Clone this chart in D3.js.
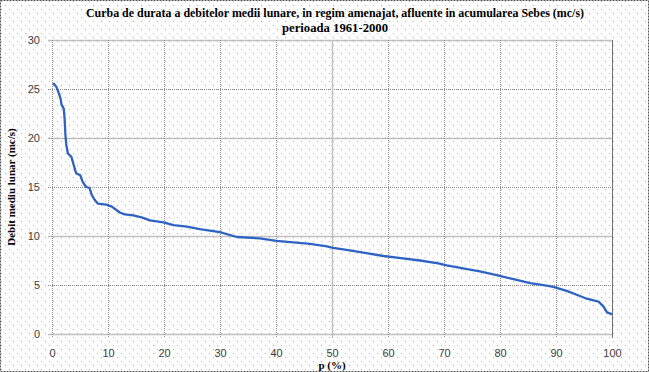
<!DOCTYPE html>
<html>
<head>
<meta charset="utf-8">
<script src="https://cdn.jsdelivr.net/npm/d3@7"></script>
<style>
  body { margin: 0; background: #fff; }
  svg { display: block; }
  .tick text { font-family: "Liberation Sans", Arial, sans-serif; font-size: 11px; fill: #404040; }
  .ttl { font-family: "Liberation Serif", "Times New Roman", serif; font-weight: bold; font-size: 11px; fill: #000; }
</style>
</head>
<body>
<script>
// curba de durata
var pValues = [0.2,0.8,1.2,1.55,1.7,2.1,2.25,2.4,2.55,2.85,3.45,3.9,4.3,5.05,5.5,6.1,6.7,7.1,7.6,8.2,9.7,
  10.7,12.1,13.0,14.5,16.0,17.5,19.9,21.7,24.1,26.4,28.2,30,33,37.1,40.1,43.1,46.1,49.1,50.2,52.3,55.6,
  59.2,61.6,65.7,69.0,70.5,73.4,76.4,79.4,82.4,85.4,88.6,89.5,91.9,93.7,95.5,97.6,98.5,99.1,99.6,100];
var qValues = [25.6,25.2,24.6,24.0,23.4,23.0,22.0,20.3,19.3,18.4,18.1,17.2,16.4,16.2,15.5,15.0,14.9,14.2,13.7,13.3,13.2,
  13.0,12.4,12.2,12.1,11.9,11.6,11.4,11.1,10.95,10.7,10.55,10.4,9.9,9.75,9.5,9.35,9.2,8.95,8.8,8.6,8.3,
  7.96,7.8,7.5,7.2,7.0,6.7,6.4,6.0,5.6,5.2,4.9,4.8,4.4,4.0,3.6,3.3,2.8,2.2,2.1,2.0];
var xTicks = [0,10,20,30,40,50,60,70,80,90,100];
var yTicks = [0,5,10,15,20,25,30];
var titleLines = ["Curba de durata a debitelor medii lunare, in regim amenajat, afluente in acumularea Sebes (mc/s)",
  "perioada 1961-2000"];
var titleWidths = [498, 106];

var W = 649, H = 372;
var m = {left: 52, right: 37, top: 40, bottom: 38};
var width = W - m.left - m.right, height = H - m.top - m.bottom;

var svg = d3.select("body").append("svg").attr("width", W).attr("height", H);

// fundal punctat
var pat = svg.append("defs").append("pattern").attr("id", "dots")
    .attr("width", 8).attr("height", 8).attr("patternUnits", "userSpaceOnUse");
pat.append("rect").attr("x", 1).attr("y", 1).attr("width", 1).attr("height", 1).attr("fill", "#b4b4b4");
pat.append("rect").attr("x", 5).attr("y", 5).attr("width", 1).attr("height", 1).attr("fill", "#b4b4b4");
svg.append("rect").attr("width", W).attr("height", H).attr("fill", "#fff");
svg.append("rect").attr("width", W).attr("height", H).attr("fill", "url(#dots)");
svg.append("rect").attr("x", 0.5).attr("y", 0.5).attr("width", W - 1).attr("height", H - 1)
    .attr("fill", "none").attr("stroke", "#555").attr("stroke-dasharray", "2,1");

var x = d3.scaleLinear().domain([0, 100]).range([0, width]);
var y = d3.scaleLinear().domain([0, 30]).range([height, 0]);

var g = svg.append("g").attr("transform", `translate(${m.left},${m.top})`);

// grila
g.selectAll(".hg").data(yTicks).enter().append("line")
    .attr("x1", -4).attr("x2", width)
    .attr("y1", function(d){return Math.round(y(d)) + 0.5;}).attr("y2", function(d){return Math.round(y(d)) + 0.5;})
    .attr("stroke", function(d){return (d % 10 == 0) ? "#c0c0c0" : "#8a8a8a";})
    .attr("stroke-width", function(d){return (d % 10 == 0) ? 1.5 : 1;})
    .attr("stroke-dasharray", function(d){return (d % 10 == 0) ? null : "1,1";});
g.selectAll(".vg").data(xTicks).enter().append("line")
    .attr("y1", 0).attr("y2", height + 4)
    .attr("x1", function(d){return Math.round(x(d)) + 0.5;}).attr("x2", function(d){return Math.round(x(d)) + 0.5;})
    .attr("stroke", function(d){return d == 50 ? "#c0c0c0" : (d == 100 ? "#707070" : "#8a8a8a");})
    .attr("stroke-width", function(d){return d == 50 ? 1.5 : 1;})
    .attr("stroke-dasharray", function(d){return (d == 50 || d == 100) ? null : "1,1";});

// axe (doar etichete)
var yAxis = g.append("g").call(d3.axisLeft(y).tickValues(yTicks).tickSize(0).tickPadding(12));
yAxis.select(".domain").remove();
var xAxis = g.append("g").attr("transform", `translate(0,${height})`)
    .call(d3.axisBottom(x).tickValues(xTicks).tickSize(0).tickPadding(15));
xAxis.select(".domain").remove();

// curba
var line = d3.line().x(function(d){return x(d[0]);}).y(function(d){return y(d[1]);});
g.append("path").datum(d3.zip(pValues, qValues))
    .attr("fill", "none").attr("stroke", "#2f63c3").attr("stroke-width", 2.3)
    .attr("stroke-linejoin", "round").attr("d", line);

// titluri
svg.selectAll(".t").data(titleLines).enter().append("text").attr("class", "ttl")
    .style("font-size", "12px")
    .attr("x", 335).attr("y", function(d,i){return 17 + i * 15;})
    .attr("text-anchor", "middle")
    .attr("textLength", function(d,i){return titleWidths[i];}).attr("lengthAdjust", "spacingAndGlyphs")
    .text(function(d){return d;});
svg.append("text").attr("class", "ttl")
    .attr("transform", `translate(15,${m.top + height / 2}) rotate(-90)`)
    .attr("text-anchor", "middle").text("Debit mediu lunar (mc/s)");
svg.append("text").attr("class", "ttl")
    .attr("x", m.left + x(50)).attr("y", 369).attr("text-anchor", "middle").text("p (%)");
</script>
</body>
</html>
